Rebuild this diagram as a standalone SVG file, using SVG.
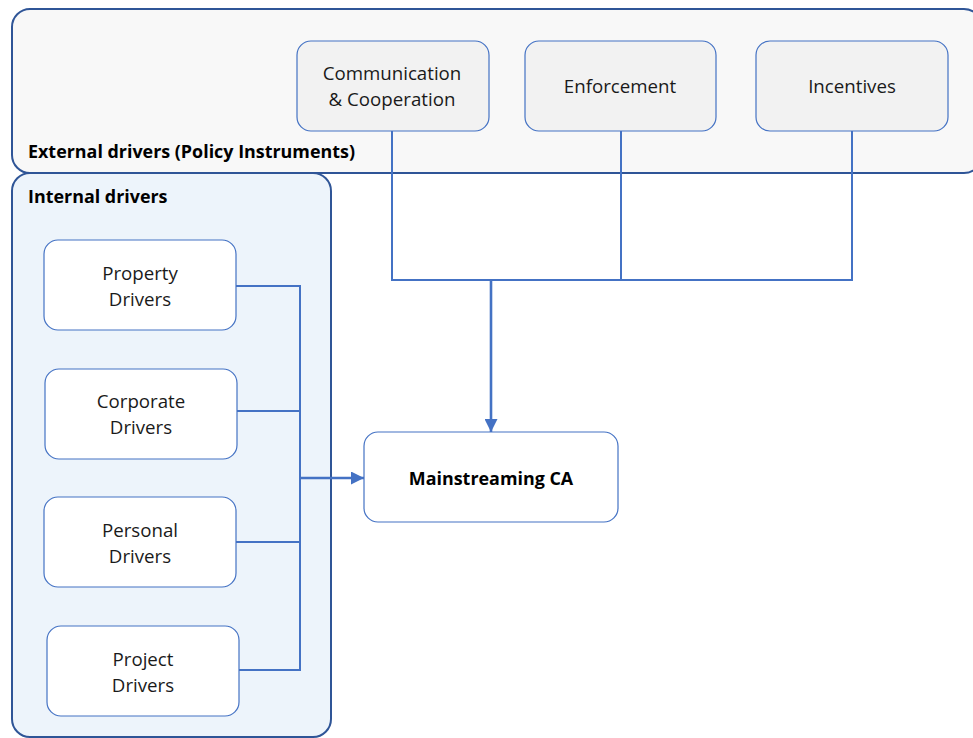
<svg xmlns="http://www.w3.org/2000/svg" width="973" height="738" viewBox="0 0 973 738">
<defs>
<style>
.grp{stroke:#2F5597;stroke-width:2}
.node{stroke:#4472C4;stroke-width:1.2}
.t{font-family:"Open Sans","Liberation Sans",sans-serif;font-size:18.7px;fill:#1a1a1a;text-anchor:middle}
.b{font-family:"Open Sans","Liberation Sans",sans-serif;font-size:17.9px;font-weight:bold;fill:#000}
.c{fill:none;stroke:#4472C4;stroke-width:2}
.a{fill:none;stroke:#4472C4;stroke-width:2.6}
</style>
<marker id="ah" viewBox="0 0 10 10" refX="10" refY="5" markerWidth="5" markerHeight="5" orient="auto" markerUnits="strokeWidth">
<path d="M0,0 L10,5 L0,10 Z" fill="#4472C4"/>
</marker>
</defs>
<rect width="973" height="738" fill="#fff"/>
<g id="external">
<rect class="grp" x="12" y="9" width="970" height="164" rx="18" fill="#F8F8F8"/>
<text class="b" x="28" y="158" text-anchor="start">External drivers (Policy Instruments)</text>
</g>
<g id="internal">
<rect class="grp" x="12" y="173" width="319" height="564" rx="18" fill="#EDF4FB"/>
<text class="b" x="28" y="203" text-anchor="start">Internal drivers</text>
</g>
<g id="connectors">
<path class="c" d="M392,131 V280 H852 V131 M621,131 V280"/>
<path class="a" d="M491,280 V432" marker-end="url(#ah)"/>
<path class="c" d="M236,286 H300 V670 H239 M237,411 H300 M236,542 H300"/>
<path class="a" d="M300,478 H364" marker-end="url(#ah)"/>
</g>
<g id="communication">
<rect class="node" x="297" y="41" width="192" height="90" rx="14" fill="#F2F2F2"/>
<text class="t" x="392" y="80">Communication</text>
<text class="t" x="392" y="106">&amp; Cooperation</text>
</g>
<g id="enforcement">
<rect class="node" x="525" y="41" width="191" height="90" rx="14" fill="#F2F2F2"/>
<text class="t" x="620" y="93">Enforcement</text>
</g>
<g id="incentives">
<rect class="node" x="756" y="41" width="192" height="90" rx="14" fill="#F2F2F2"/>
<text class="t" x="852" y="93">Incentives</text>
</g>
<g id="property">
<rect class="node" x="44" y="240" width="192" height="90" rx="14" fill="#fff"/>
<text class="t" x="140" y="280">Property</text>
<text class="t" x="140" y="306">Drivers</text>
</g>
<g id="corporate">
<rect class="node" x="45" y="369" width="192" height="90" rx="14" fill="#fff"/>
<text class="t" x="141" y="408">Corporate</text>
<text class="t" x="141" y="434">Drivers</text>
</g>
<g id="personal">
<rect class="node" x="44" y="497" width="192" height="90" rx="14" fill="#fff"/>
<text class="t" x="140" y="537">Personal</text>
<text class="t" x="140" y="563">Drivers</text>
</g>
<g id="project">
<rect class="node" x="47" y="626" width="192" height="90" rx="14" fill="#fff"/>
<text class="t" x="143" y="666">Project</text>
<text class="t" x="143" y="692">Drivers</text>
</g>
<g id="mainstreaming">
<rect class="node" x="364" y="432" width="254" height="90" rx="14" fill="#fff"/>
<text class="b" x="491" y="485" text-anchor="middle">Mainstreaming CA</text>
</g>
</svg>
